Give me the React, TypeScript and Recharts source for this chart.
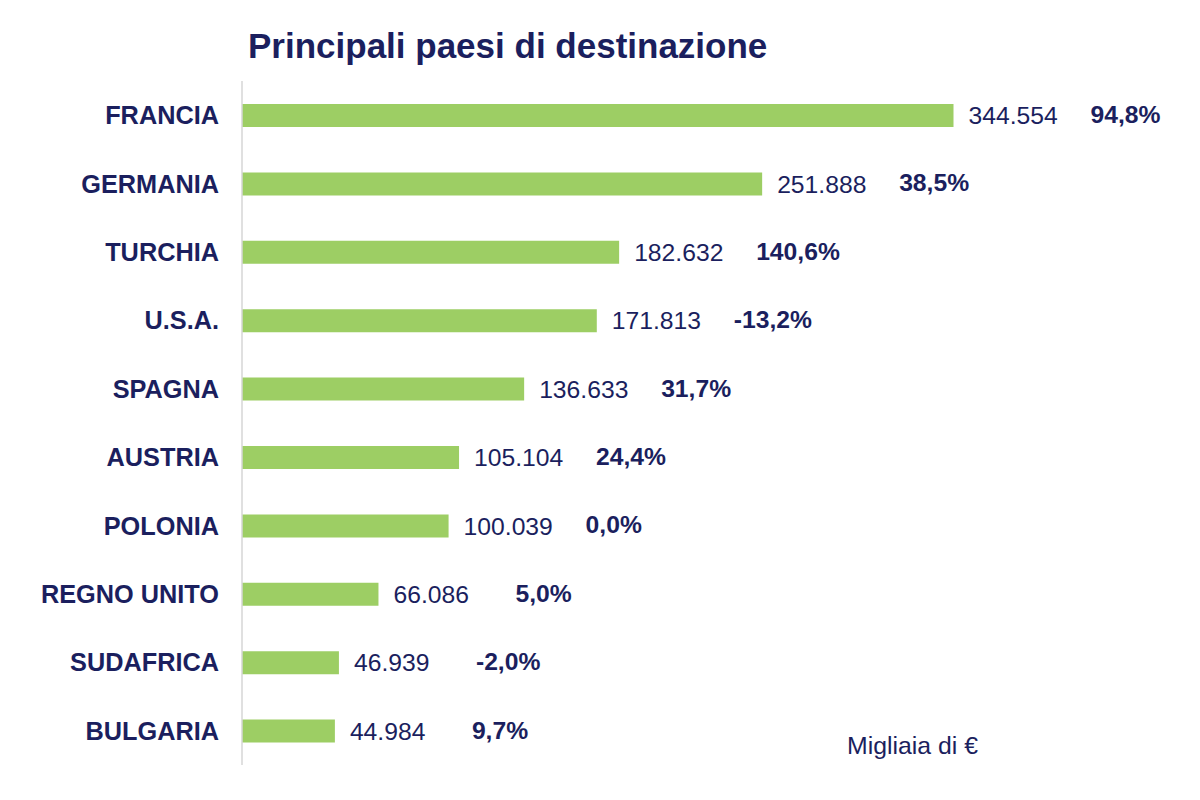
import React from "react";
import { BarChart, Bar, XAxis, YAxis, LabelList } from "recharts";

const countries = [
  "FRANCIA",
  "GERMANIA",
  "TURCHIA",
  "U.S.A.",
  "SPAGNA",
  "AUSTRIA",
  "POLONIA",
  "REGNO UNITO",
  "SUDAFRICA",
  "BULGARIA",
];
const exportValues = [344554, 251888, 182632, 171813, 136633, 105104, 100039, 66086, 46939, 44984];
const changePct = [94.8, 38.5, 140.6, -13.2, 31.7, 24.4, 0.0, 5.0, -2.0, 9.7];
const valueDomain = [0, 400000];

const NAVY = "#1b1f5e";
const GREEN = "#9dce64";
const FONT = '"Liberation Sans", Arial, sans-serif';

const data = countries.map((c, i) => ({
  country: c,
  value: exportValues[i],
  pct: changePct[i],
}));

const fmtThousands = (v: number) => String(v).replace(/\B(?=(\d{3})+(?!\d))/g, ".");
const fmtPct = (v: number) => v.toFixed(1).replace(".", ",") + "%";

const CategoryTick = ({ x, y, payload }: any) => (
  <text
    x={x}
    y={y}
    dy="0.355em"
    textAnchor="end"
    fill={NAVY}
    fontFamily={FONT}
    fontWeight={700}
    fontSize={25.3}
  >
    {payload.value}
  </text>
);

const PctLabel = (props: any) => {
  const { x, y, width, height, value } = props;
  return (
    <text
      x={x + width + 137}
      y={y + height / 2}
      dy="0.3em"
      fill={NAVY}
      fontFamily={FONT}
      fontWeight={700}
      fontSize={24.7}
    >
      {fmtPct(value)}
    </text>
  );
};

export default function App() {
  return (
    <div
      style={{
        position: "absolute",
        left: 0,
        top: 0,
        width: 1200,
        height: 800,
        background: "#fff",
        fontFamily: FONT,
      }}
    >
      <div
        style={{
          position: "absolute",
          left: 248,
          top: 28,
          fontSize: 35,
          lineHeight: 1,
          fontWeight: 700,
          color: NAVY,
          whiteSpace: "nowrap",
        }}
      >
        Principali paesi di destinazione
      </div>
      <BarChart
        layout="vertical"
        width={1200}
        height={800}
        data={data}
        margin={{ top: 81, right: 132, bottom: 35, left: 0 }}
      >
        <XAxis type="number" domain={valueDomain} hide />
        <YAxis
          type="category"
          dataKey="country"
          width={242}
          interval={0}
          axisLine={{ stroke: "#d6d6d6", strokeWidth: 1.5 }}
          tickLine={false}
          tickSize={0}
          tickMargin={23}
          tick={<CategoryTick />}
        />
        <Bar dataKey="value" fill={GREEN} barSize={23} isAnimationActive={false}>
          <LabelList
            dataKey="value"
            position="right"
            offset={15}
            formatter={(v: any) => fmtThousands(Number(v))}
            fill={NAVY}
            fontFamily={FONT}
            fontSize={24.7}
          />
          <LabelList dataKey="pct" content={PctLabel} />
        </Bar>
      </BarChart>
      <div
        style={{
          position: "absolute",
          left: 847,
          top: 734,
          fontSize: 24.8,
          lineHeight: 1,
          color: NAVY,
          whiteSpace: "nowrap",
        }}
      >
        Migliaia di €
      </div>
    </div>
  );
}
